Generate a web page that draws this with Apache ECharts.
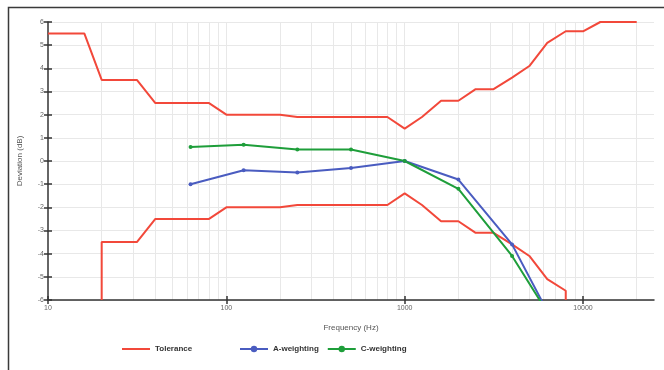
<!DOCTYPE html>
<html>
<head>
<meta charset="utf-8">
<script src="https://cdn.jsdelivr.net/npm/echarts@6/dist/echarts.min.js"></script>
<style>
  html, body { margin: 0; padding: 0; background: #fff; }
  #chart { width: 664px; height: 370px; }
</style>
</head>
<body>
<div id="chart"></div>
<script>
// Third-octave centre frequencies (Hz) used for the tolerance envelope
const tolFreqs = [10, 12.5, 16, 20, 25, 31.5, 40, 50, 63, 80, 100, 125, 160, 200, 250, 315, 400, 500, 630, 800,
  1000, 1250, 1600, 2000, 2500, 3150, 4000, 5000, 6300, 8000, 10000, 12500, 16000, 20000];
// Upper tolerance limit (dB)
const tolUpper = [5.5, 5.5, 5.5, 3.5, 3.5, 3.5, 2.5, 2.5, 2.5, 2.5, 2, 2, 2, 2, 1.9, 1.9, 1.9, 1.9, 1.9, 1.9,
  1.4, 1.9, 2.6, 2.6, 3.1, 3.1, 3.6, 4.1, 5.1, 5.6, 5.6, 6, 6, 6];
// Lower tolerance limit (dB); null = unbounded (minus infinity)
const tolLower = [null, null, null, -3.5, -3.5, -3.5, -2.5, -2.5, -2.5, -2.5, -2, -2, -2, -2, -1.9, -1.9, -1.9, -1.9, -1.9, -1.9,
  -1.4, -1.9, -2.6, -2.6, -3.1, -3.1, -3.6, -4.1, -5.1, -5.6, null, null, null, null];

// Octave test frequencies (Hz) and measured deviations (dB)
const testFreqs = [63, 125, 250, 500, 1000, 2000, 4000, 8000];
const aWeighting = [-1.0, -0.4, -0.5, -0.3, 0, -0.8, -3.6, -8.0];
const cWeighting = [0.6, 0.7, 0.5, 0.5, 0, -1.2, -4.1, -7.8];

// Axis settings
const xMin = 10, xMax = 25000;
const yMin = -6, yMax = 6;
const xTickValues = [10, 100, 1000, 10000];

const RED = '#f2483a', BLUE = '#4a5cc0', GREEN = '#1e9e3a';
const FONT = '"Liberation Sans", Arial, sans-serif';

// Upper envelope as [freq, dB] pairs
const upperLine = tolFreqs.map((f, i) => [f, tolUpper[i]]);
// Lower envelope: unbounded ends run down to the axis floor
const lowerLine = [];
tolFreqs.forEach((f, i) => {
  const v = tolLower[i];
  const prev = i > 0 ? tolLower[i - 1] : null;
  const next = i < tolFreqs.length - 1 ? tolLower[i + 1] : null;
  if (v === null) return;
  if (prev === null) lowerLine.push([f, yMin]);
  lowerLine.push([f, v]);
  if (next === null) lowerLine.push([f, yMin]);
});

// Log-decade grid lines (1..9 times each decade)
const gridFreqs = [];
for (let d = 10; d < xMax; d *= 10) {
  for (let k = 1; k <= 9; k++) {
    const f = k * d;
    if (f > xMin && f < xMax) gridFreqs.push(f);
  }
}

const chart = echarts.init(document.getElementById('chart'), null, { renderer: 'canvas' });

const baseX = {
  type: 'log', logBase: 10, min: xMin, max: xMax, position: 'bottom',
  splitLine: { show: false }, minorTick: { show: false }
};
const baseY = {
  type: 'value', min: yMin, max: yMax, interval: 1, position: 'left'
};

chart.setOption({
  animation: false,
  backgroundColor: '#ffffff',
  textStyle: { fontFamily: FONT },
  grid: { left: 48, right: 10, top: 22, bottom: 70, containLabel: false },
  graphic: [{
    type: 'rect', silent: true, z: 100,
    shape: { x: 8.5, y: 7.5, width: 700, height: 400 },
    style: { fill: 'none', stroke: '#3a3a3a', lineWidth: 1.5 }
  }],
  xAxis: [
    Object.assign({}, baseX, {
      name: 'Frequency (Hz)', nameLocation: 'middle', nameGap: 24,
      nameTextStyle: { fontSize: 8, color: '#555', fontFamily: FONT },
      axisLine: { show: true, onZero: false, lineStyle: { color: '#333', width: 1.5 } },
      axisTick: { show: true, length: 4, customValues: xTickValues, lineStyle: { color: '#333', width: 1.5 } },
      axisLabel: {
        show: true, customValues: xTickValues, fontSize: 7, color: '#666', margin: 5, fontFamily: FONT,
        formatter: v => String(Math.round(v))
      }
    }),
    Object.assign({}, baseX, {
      axisLine: { show: false, onZero: false },
      axisTick: { show: true, inside: true, length: 4, customValues: xTickValues, lineStyle: { color: '#333', width: 1.5 } },
      axisLabel: { show: false }
    })
  ],
  yAxis: [
    Object.assign({}, baseY, {
      name: 'Deviation (dB)', nameLocation: 'middle', nameGap: 24, nameRotate: 90,
      nameTextStyle: { fontSize: 8, color: '#555', fontFamily: FONT },
      axisLine: { show: true, onZero: false, lineStyle: { color: '#333', width: 1.5 } },
      axisTick: { show: true, length: 4, lineStyle: { color: '#333', width: 1.5 } },
      axisLabel: { fontSize: 7, color: '#666', margin: 4, fontFamily: FONT },
      splitLine: { show: true, lineStyle: { color: '#e8e8e8', width: 1 } }
    }),
    Object.assign({}, baseY, {
      axisLine: { show: false, onZero: false },
      axisTick: { show: true, inside: true, length: 4, lineStyle: { color: '#333', width: 1.5 } },
      axisLabel: { show: false },
      splitLine: { show: false }
    })
  ],
  legend: [
    {
      left: 117, top: 340, itemWidth: 28, itemHeight: 2, itemGap: 10, icon: 'rect',
      data: ['Tolerance'],
      textStyle: { fontSize: 8, fontWeight: 'bold', color: '#333', fontFamily: FONT },
      selectedMode: false
    },
    {
      left: 234, top: 340, itemWidth: 28, itemHeight: 8, itemGap: 8,
      data: ['A-weighting', 'C-weighting'],
      textStyle: { fontSize: 8, fontWeight: 'bold', color: '#333', fontFamily: FONT },
      selectedMode: false
    }
  ],
  series: [
    {
      // vertical log grid lines, kept beneath the data lines
      type: 'line', xAxisIndex: 0, yAxisIndex: 0, data: [], silent: true, z: 0,
      markLine: {
        silent: true, z: 0, symbol: ['none', 'none'], label: { show: false },
        lineStyle: { color: '#e8e8e8', type: 'solid', width: 1 },
        data: gridFreqs.map(f => ({ xAxis: f }))
      }
    },
    {
      name: 'Tolerance', type: 'line', data: upperLine, showSymbol: false, symbol: 'none',
      lineStyle: { color: RED, width: 2 }, itemStyle: { color: RED }, clip: true, z: 3
    },
    {
      name: 'Tolerance', type: 'line', data: lowerLine, showSymbol: false, symbol: 'none',
      lineStyle: { color: RED, width: 2 }, itemStyle: { color: RED }, clip: true, z: 3
    },
    {
      name: 'A-weighting', type: 'line', data: testFreqs.map((f, i) => [f, aWeighting[i]]),
      symbol: 'circle', symbolSize: 4, lineStyle: { color: BLUE, width: 2 }, itemStyle: { color: BLUE },
      clip: true, z: 4
    },
    {
      name: 'C-weighting', type: 'line', data: testFreqs.map((f, i) => [f, cWeighting[i]]),
      symbol: 'circle', symbolSize: 4, lineStyle: { color: GREEN, width: 2 }, itemStyle: { color: GREEN },
      clip: true, z: 4
    }
  ]
});
</script>
</body>
</html>
